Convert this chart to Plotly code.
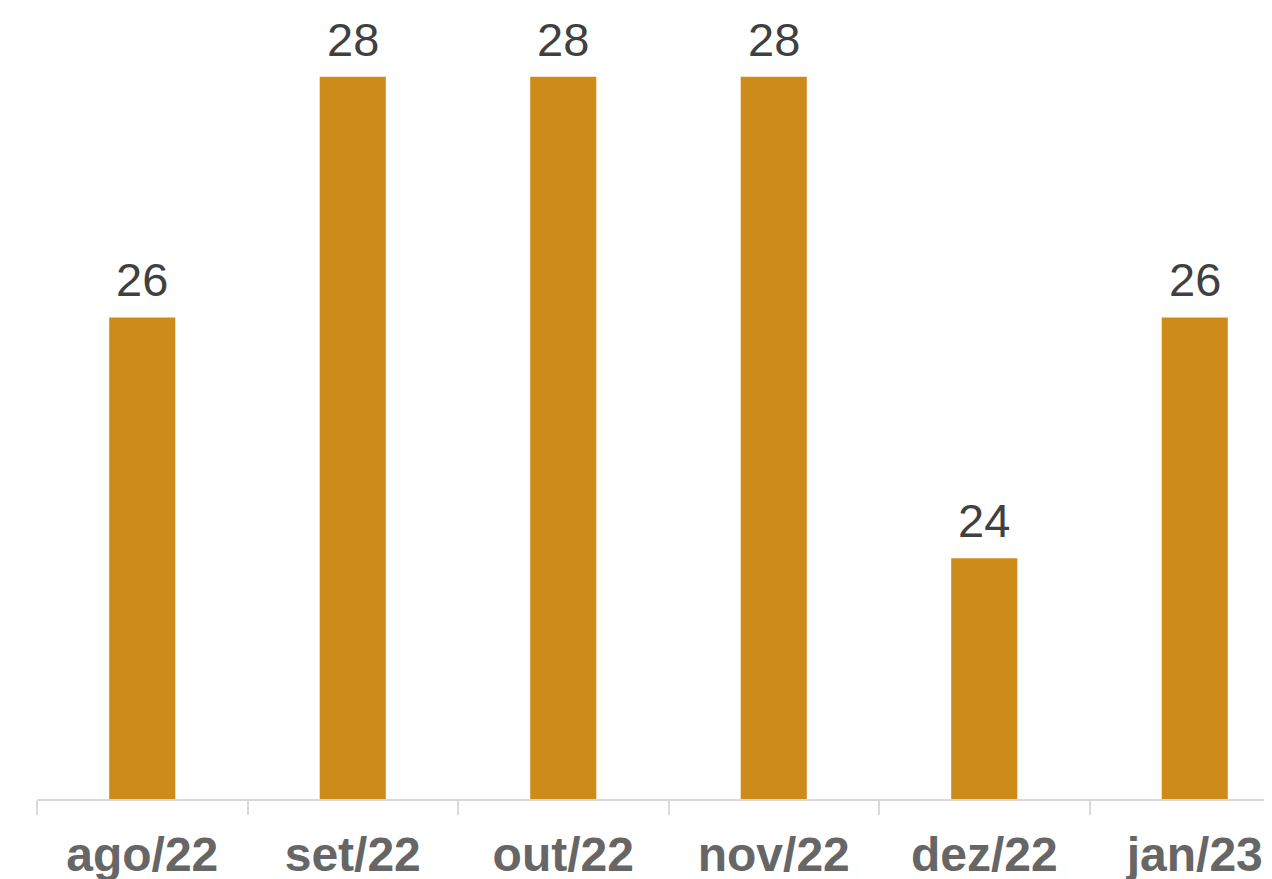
import plotly.graph_objects as go

categories = ["ago/22", "set/22", "out/22", "nov/22", "dez/22", "jan/23"]
values = [26, 28, 28, 28, 24, 26]

fig = go.Figure(go.Bar(
    x=categories, y=values,
    marker=dict(color="#CD8B19", line=dict(width=0)),
    cliponaxis=False,
))

for c, v in zip(categories, values):
    fig.add_annotation(
        x=c, y=v, text=str(v), showarrow=False,
        yanchor="bottom", yshift=9,
        font=dict(family="Liberation Sans, Arial", size=47, color="#404040"),
    )

fig.update_layout(
    width=1264, height=871,
    margin=dict(l=29, r=0, t=0, b=80),
    paper_bgcolor="white", plot_bgcolor="white",
    bargap=0.686,
    showlegend=False,
    xaxis=dict(
        range=[-0.5, 5.367],
        automargin=False,
        showline=True, linecolor="#D9D9D9", linewidth=2,
        ticks="outside", tickson="boundaries", ticklen=14, tickcolor="#D9D9D9", tickwidth=2,
        tickfont=dict(family="Liberation Sans, Arial", size=48, color="#666666", weight="bold"),
        ticklabelstandoff=12,
        showgrid=False,
    ),
    yaxis=dict(range=[22, 28.57], visible=False, showgrid=False, automargin=False),
)

fig.write_html("out.html")
